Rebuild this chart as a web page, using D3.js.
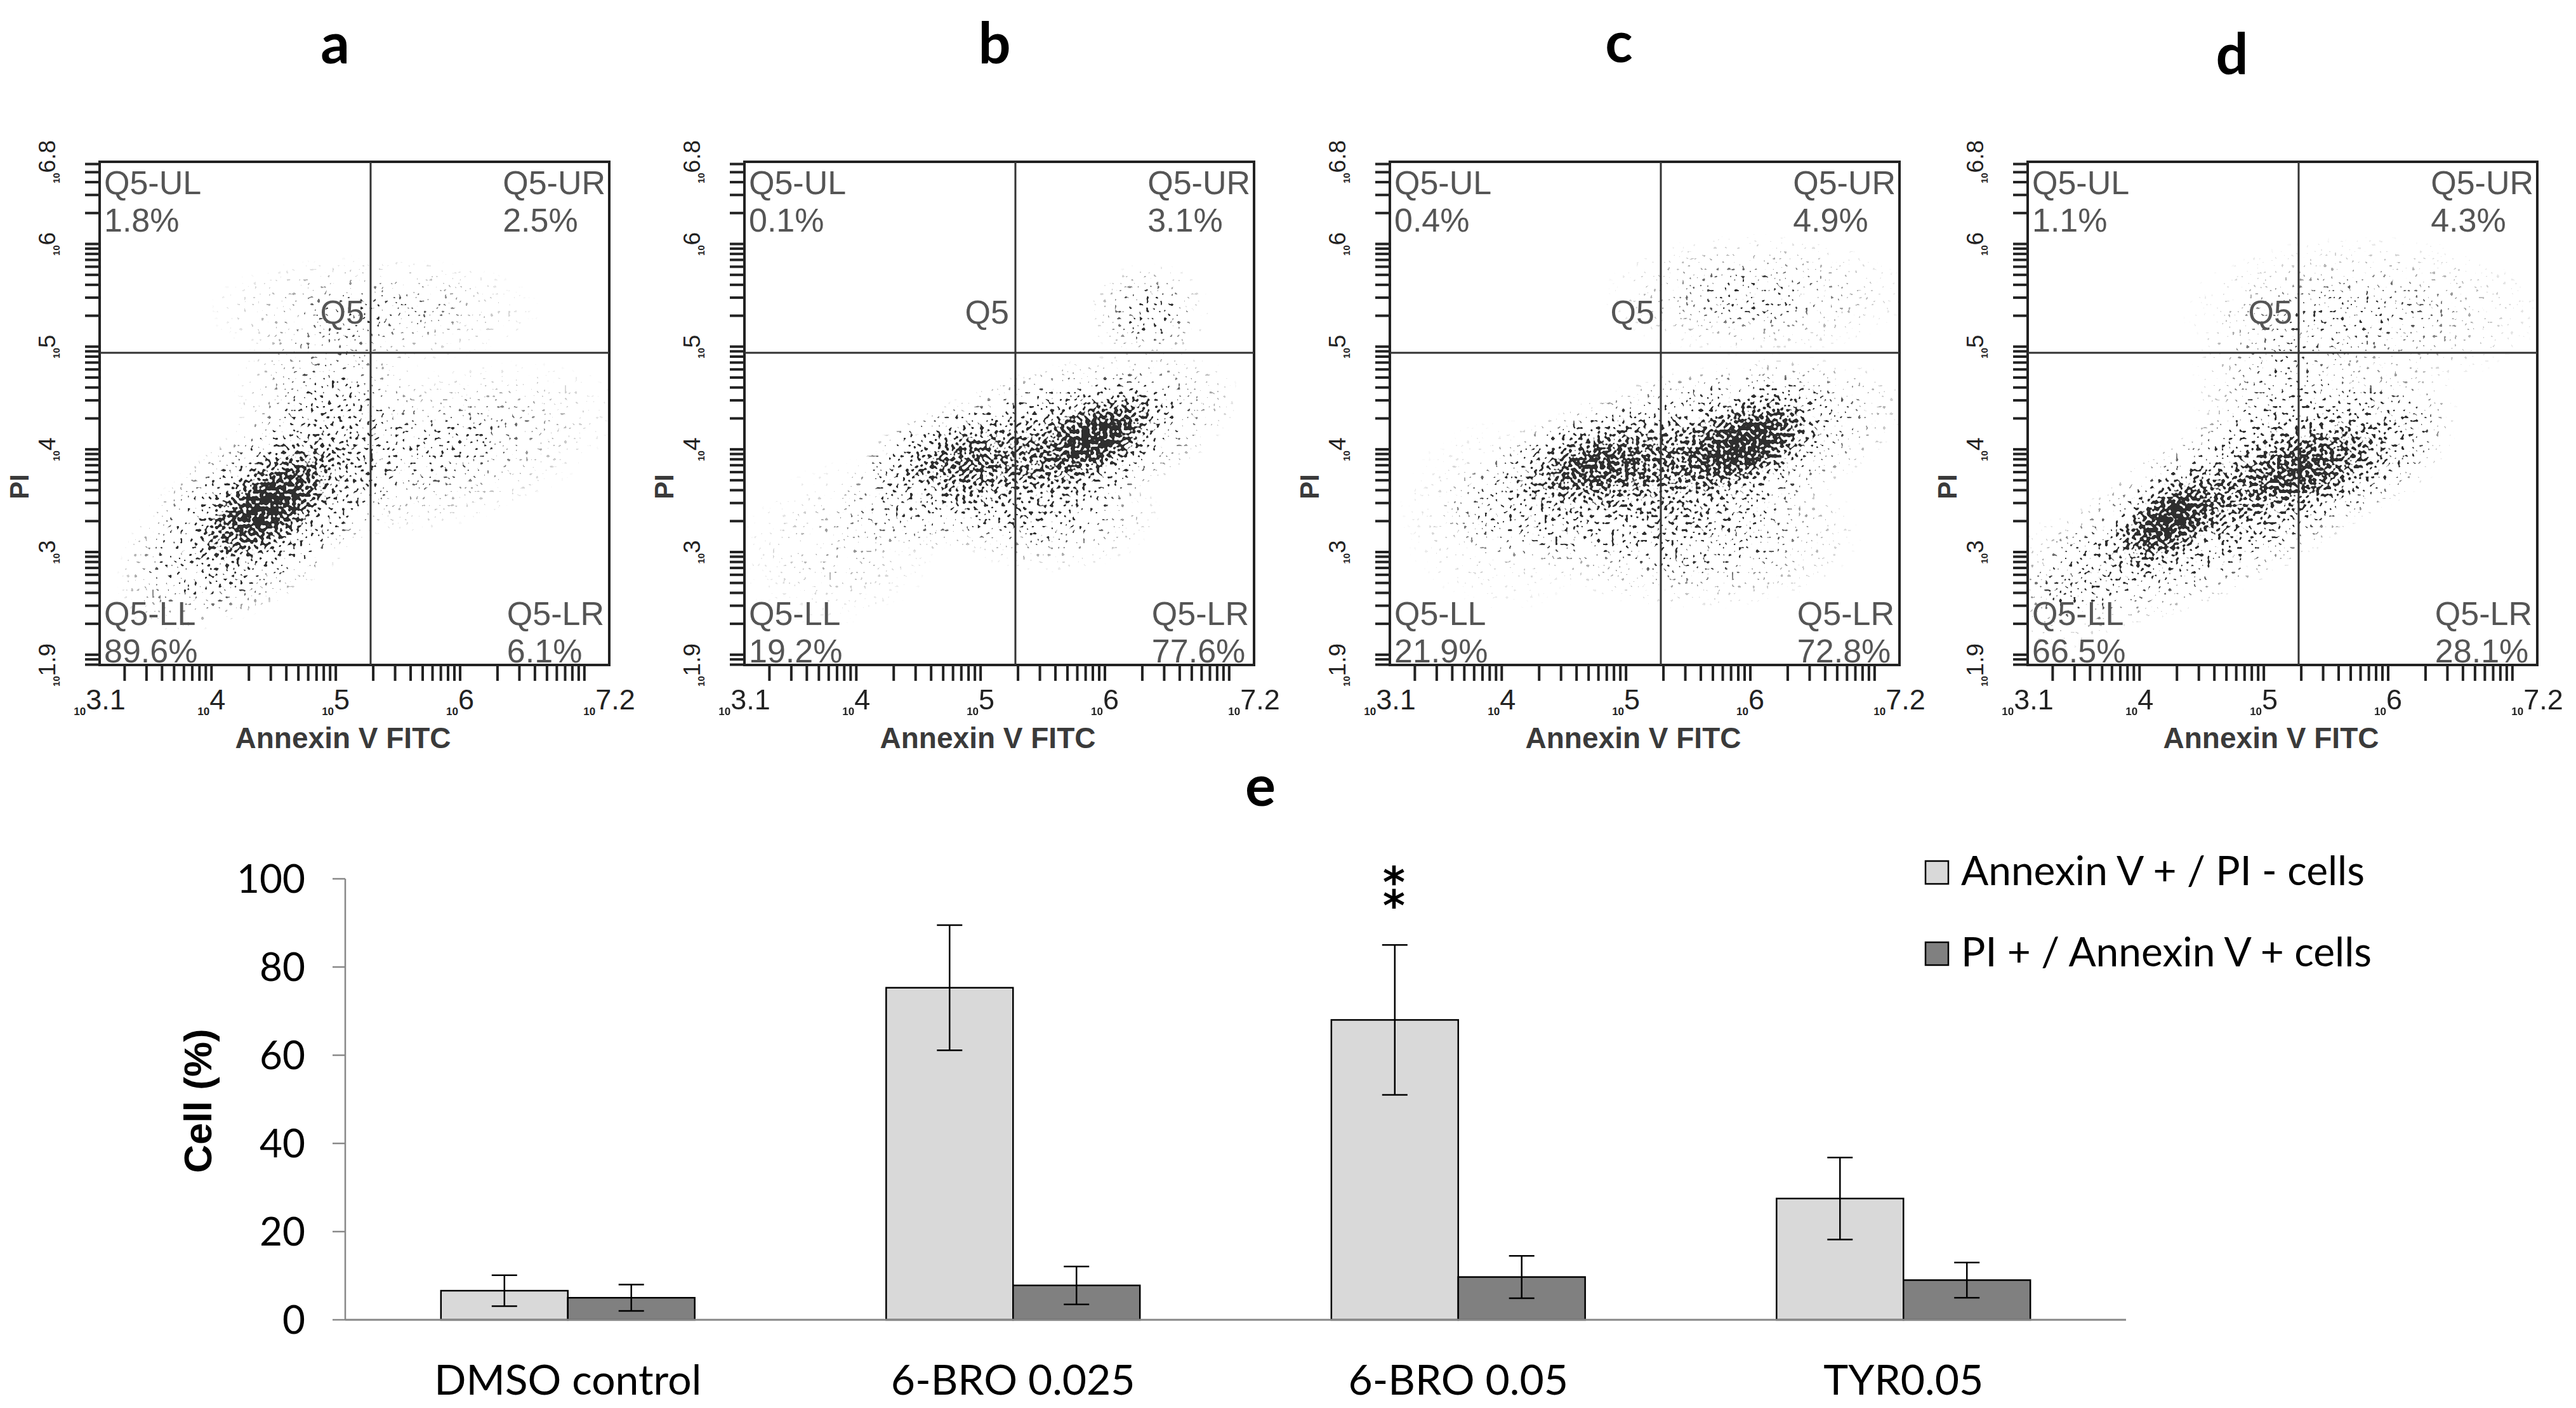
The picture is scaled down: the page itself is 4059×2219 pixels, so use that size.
<!DOCTYPE html>
<html>
<head>
<meta charset="utf-8">
<script src="https://cdn.jsdelivr.net/npm/d3@7"></script>
<style>
  body { margin: 0; background: #fff; }
</style>
</head>
<body>
<svg id="chart"></svg>
<script>
"use strict";

// ---- flow cytometry panels (a-d) ----
var panelNames = ["a", "b", "c", "d"];
var quadrantNames = ["Q5-UL", "Q5-UR", "Q5-LL", "Q5-LR"];
var quadrantPct = [
  ["1.8%", "2.5%", "89.6%", "6.1%"],
  ["0.1%", "3.1%", "19.2%", "77.6%"],
  ["0.4%", "4.9%", "21.9%", "72.8%"],
  ["1.1%", "4.3%", "66.5%", "28.1%"]
];
var xExtent = [3.1, 7.2];          // log10 Annexin V FITC
var yExtent = [1.9, 6.8];          // log10 PI
var xTickExp = [3.1, 4, 5, 6, 7.2];
var yTickExp = [1.9, 3, 4, 5, 6, 6.8];
var gateLog = [5.28, 4.94];        // Q5 quadrant gate

// cell clouds:
// [log10 FITC, log10 PI, spread along, spread across (decades), tilt (deg), density]
var cloudsA = [
  [4.46, 3.47, 0.32, 0.16, 38, 0.8],
  [4.42, 3.38, 0.60, 0.30, 35, 0.4],
  [4.95, 4.35, 0.35, 0.40, 0, 0.15],
  [5.85, 4.00, 0.65, 0.28, 15, 0.12],
  [5.30, 5.35, 0.60, 0.20, 0, 0.1]
];
var cloudsB = [
  [5.95, 4.12, 0.30, 0.15, 29, 0.8],
  [5.45, 3.98, 0.75, 0.28, 18, 0.42],
  [4.77, 3.90, 0.33, 0.18, 10, 0.38],
  [5.55, 3.40, 0.40, 0.22, 0, 0.17],
  [6.36, 5.33, 0.22, 0.18, 0, 0.16],
  [3.90, 3.10, 0.40, 0.30, 20, 0.05]
];
var cloudsC = [
  [5.98, 4.07, 0.33, 0.17, 25, 0.8],
  [4.72, 3.86, 0.33, 0.16, 15, 0.55],
  [5.38, 3.90, 0.85, 0.30, 15, 0.45],
  [5.55, 3.20, 0.60, 0.28, 0, 0.18],
  [6.05, 5.50, 0.55, 0.22, 0, 0.12],
  [4.05, 3.36, 0.40, 0.35, 0, 0.06]
];
var cloudsD = [
  [4.23, 3.31, 0.30, 0.15, 35, 0.8],
  [5.30, 3.80, 0.33, 0.18, 20, 0.5],
  [4.83, 3.55, 0.85, 0.30, 28, 0.38],
  [5.80, 3.98, 0.35, 0.22, 25, 0.22],
  [5.80, 5.32, 0.65, 0.28, 0, 0.11],
  [5.13, 4.55, 0.33, 0.38, 0, 0.11],
  [3.45, 2.70, 0.30, 0.25, 30, 0.09]
];
var clouds = [cloudsA, cloudsB, cloudsC, cloudsD];

// ---- bar chart (e) ----
var groups = ["DMSO control", "6-BRO 0.025", "6-BRO 0.05", "TYR0.05"];
var seriesNames = ["Annexin V + / PI - cells", "PI + / Annexin V + cells"];
var earlyApoptotic = [6.6, 75.3, 68.0, 27.5];
var earlyErr = [3.5, 14.2, 17.0, 9.3];
var lateApoptotic = [5.0, 7.8, 9.7, 9.0];
var lateErr = [3.0, 4.3, 4.8, 4.0];
var yTicks = [0, 20, 40, 60, 80, 100];
var stars = [{ group: "6-BRO 0.05", series: 0, mark: "\u2051" }];   // two stacked asterisks

var W = 4059, H = 2219;
var svg = d3.select("#chart").attr("width", W).attr("height", H);
var defs = svg.append("defs");

// gaussian fall-off used for every cloud
var gauss = defs.append("radialGradient").attr("id", "gauss");
[[0, 1], [0.2, 0.88], [0.4, 0.61], [0.6, 0.32], [0.8, 0.14], [1, 0]].forEach(function (s) {
  gauss.append("stop").attr("offset", s[0]).attr("stop-color", "#000").attr("stop-opacity", s[1]);
});

// turns a density field into speckles like a dot plot
var sp = defs.append("filter").attr("id", "speckle")
  .attr("color-interpolation-filters", "sRGB")
  .attr("filterUnits", "userSpaceOnUse")
  .attr("x", 0).attr("y", 0).attr("width", W).attr("height", 1200);
sp.append("feTurbulence").attr("type", "fractalNoise").attr("baseFrequency", 0.18)
  .attr("numOctaves", 1).attr("seed", 11).attr("result", "noise");
sp.append("feColorMatrix").attr("in", "noise").attr("type", "matrix")
  .attr("values", "0 0 0 0 0  0 0 0 0 0  0 0 0 0 0  2.4 0 0 0 -0.7").attr("result", "grain");
sp.append("feComponentTransfer").attr("in", "SourceAlpha").attr("result", "dens")
  .append("feFuncA").attr("type", "gamma").attr("amplitude", 1).attr("exponent", 0.9).attr("offset", 0);
sp.append("feComposite").attr("in", "dens").attr("in2", "grain").attr("operator", "arithmetic")
  .attr("k1", 0).attr("k2", 8).attr("k3", 8).attr("k4", -8).attr("result", "dots");
sp.append("feGaussianBlur").attr("in", "dots").attr("stdDeviation", 0.5).attr("result", "soft");
sp.append("feFlood").attr("flood-color", "#2e2e2e").attr("result", "ink");
sp.append("feComposite").attr("in", "ink").attr("in2", "soft").attr("operator", "in");

var panelLeft = [157, 1173, 2190, 3195];
var panelW = 803, panelTop = 255, panelBottom = 1048;
var titlePos = [[528, 100], [1567, 100], [2551, 98], [3517, 117]];
var sans = "'Liberation Sans', Arial, sans-serif";

panelNames.forEach(function (name, p) {
  var left = panelLeft[p], right = left + panelW;
  var x = d3.scaleLog().domain(xExtent.map(function (e) { return Math.pow(10, e); })).range([left, right]);
  var y = d3.scaleLog().domain(yExtent.map(function (e) { return Math.pow(10, e); })).range([panelBottom, panelTop]);
  var pxPerDec = ((right - left) / (xExtent[1] - xExtent[0]) + (panelBottom - panelTop) / (yExtent[1] - yExtent[0])) / 2;
  var g = svg.append("g").attr("class", "panel");

  svg.append("text").attr("x", titlePos[p][0]).attr("y", titlePos[p][1])
    .attr("text-anchor", "middle").attr("font-family", "Lato, sans-serif").attr("font-weight", 700)
    .attr("font-size", 90).text(name);

  defs.append("clipPath").attr("id", "clip" + p).append("rect")
    .attr("x", left).attr("y", panelTop).attr("width", panelW).attr("height", panelBottom - panelTop);

  g.append("g").attr("clip-path", "url(#clip" + p + ")")
    .append("g").attr("filter", "url(#speckle)")
    .selectAll("ellipse").data(clouds[p]).enter().append("ellipse")
    .attr("cx", function (d) { return x(Math.pow(10, d[0])); })
    .attr("cy", function (d) { return y(Math.pow(10, d[1])); })
    .attr("rx", function (d) { return 2.5 * d[2] * pxPerDec; })
    .attr("ry", function (d) { return 2.5 * d[3] * pxPerDec; })
    .attr("transform", function (d) {
      return "rotate(" + (-d[4]) + "," + x(Math.pow(10, d[0])) + "," + y(Math.pow(10, d[1])) + ")";
    })
    .attr("fill", "url(#gauss)").attr("fill-opacity", function (d) { return d[5]; });

  // ticks
  g.append("g").selectAll("line").data(x.ticks()).enter().append("line")
    .attr("x1", function (d) { return x(d); }).attr("x2", function (d) { return x(d); })
    .attr("y1", panelBottom).attr("y2", panelBottom + 25)
    .attr("stroke", "#222").attr("stroke-width", 4);
  g.append("g").selectAll("line").data(y.ticks()).enter().append("line")
    .attr("y1", function (d) { return y(d); }).attr("y2", function (d) { return y(d); })
    .attr("x1", left).attr("x2", left - 23)
    .attr("stroke", "#222").attr("stroke-width", 4);

  // frame and gate
  g.append("rect").attr("x", left).attr("y", panelTop).attr("width", panelW)
    .attr("height", panelBottom - panelTop).attr("fill", "none").attr("stroke", "#222").attr("stroke-width", 4);
  var gx = x(Math.pow(10, gateLog[0])), gy = y(Math.pow(10, gateLog[1]));
  g.append("line").attr("x1", gx).attr("x2", gx).attr("y1", panelTop).attr("y2", panelBottom)
    .attr("stroke", "#333").attr("stroke-width", 3);
  g.append("line").attr("x1", left).attr("x2", right).attr("y1", gy).attr("y2", gy)
    .attr("stroke", "#333").attr("stroke-width", 3);

  // tick labels: small "10" with the exponent
  var xl = g.append("g").selectAll("text").data(xTickExp).enter().append("text")
    .attr("x", function (d) { return x(Math.pow(10, d)); }).attr("y", panelBottom + 70)
    .attr("text-anchor", "middle").attr("font-family", sans).attr("fill", "#222");
  xl.append("tspan").attr("font-size", 17).attr("font-weight", 700).attr("dy", 9).text("10");
  xl.append("tspan").attr("font-size", 45).attr("dy", -9).text(function (d) { return d; });

  var yl = g.append("g").selectAll("text").data(yTickExp).enter().append("text")
    .attr("transform", function (d) { return "translate(" + (left - 70) + "," + y(Math.pow(10, d)) + ") rotate(-90)"; })
    .attr("text-anchor", "middle").attr("font-family", sans).attr("fill", "#222");
  yl.append("tspan").attr("font-size", 15).attr("font-weight", 700).attr("dy", 7).text("10");
  yl.append("tspan").attr("font-size", 37).attr("dy", -7).text(function (d) { return d; });

  // axis titles
  g.append("text").attr("x", (left + right) / 2 - 18).attr("y", panelBottom + 131)
    .attr("text-anchor", "middle").attr("font-family", sans).attr("font-weight", 700)
    .attr("font-size", 46).attr("fill", "#3a3a3a").text("Annexin V FITC");
  g.append("text").attr("transform", "translate(" + (left - 112) + ",767) rotate(-90)")
    .attr("text-anchor", "middle").attr("font-family", sans).attr("font-weight", 700)
    .attr("font-size", 42).attr("fill", "#3a3a3a").text("PI");

  // quadrant labels
  function qtext(tx, ty, str, anchor) {
    return g.append("text").attr("x", tx).attr("y", ty).attr("text-anchor", anchor || "start")
      .attr("font-family", sans).attr("font-size", 52).attr("fill", "#555").text(str);
  }
  qtext(left + 7, panelTop + 51, quadrantNames[0]);
  qtext(left + 7, panelTop + 110, quadrantPct[p][0]);
  var ur = qtext(right - 6, panelTop + 51, quadrantNames[1], "end");
  qtext(right - 6 - ur.node().getComputedTextLength(), panelTop + 110, quadrantPct[p][1]);
  qtext(left + 7, panelBottom - 63, quadrantNames[2]);
  qtext(left + 7, panelBottom - 4, quadrantPct[p][2]);
  var lr = qtext(right - 8, panelBottom - 63, quadrantNames[3], "end");
  qtext(right - 8 - lr.node().getComputedTextLength(), panelBottom - 4, quadrantPct[p][3]);
  qtext(gx - 10, gy - 46, "Q5", "end");
});

// ---- panel e ----
var ex = d3.scaleBand().domain(groups).range([544, 3350]);
var ey = d3.scaleLinear().domain([0, 100]).range([2080, 1385]);
var barW = ex.step() * 0.285;
var serColor = ["#d9d9d9", "#808080"];
var values = [earlyApoptotic, lateApoptotic];
var errs = [earlyErr, lateErr];
var lato = "Lato, 'Open Sans', sans-serif";

svg.append("text").attr("x", 1986).attr("y", 1270).attr("text-anchor", "middle")
  .attr("font-family", lato).attr("font-weight", 700).attr("font-size", 90).text("e");

var eg = svg.append("g");
eg.append("g").selectAll("line").data(yTicks).enter().append("line")
  .attr("x1", 524).attr("x2", 544).attr("y1", function (d) { return ey(d); }).attr("y2", function (d) { return ey(d); })
  .attr("stroke", "#888").attr("stroke-width", 2.5);
eg.append("g").selectAll("text").data(yTicks).enter().append("text")
  .attr("x", 481).attr("y", function (d) { return ey(d) + 22; }).attr("text-anchor", "end")
  .attr("font-family", lato).attr("font-size", 62).text(function (d) { return d; });
eg.append("line").attr("x1", 544).attr("x2", 544).attr("y1", ey(100)).attr("y2", ey(0))
  .attr("stroke", "#888").attr("stroke-width", 2.5);

var rows = [];
groups.forEach(function (gname, i) {
  [0, 1].forEach(function (s) {
    rows.push({ group: gname, s: s, v: values[s][i], e: errs[s][i] });
  });
});
function barX(d) { return ex(d.group) + ex.bandwidth() / 2 + (d.s - 1) * barW; }

eg.append("g").selectAll("rect").data(rows).enter().append("rect")
  .attr("x", barX).attr("y", function (d) { return ey(d.v); })
  .attr("width", barW).attr("height", function (d) { return ey(0) - ey(d.v); })
  .attr("fill", function (d) { return serColor[d.s]; })
  .attr("stroke", "#000").attr("stroke-width", 2.5);

eg.append("line").attr("x1", 544).attr("x2", 3350).attr("y1", ey(0)).attr("y2", ey(0))
  .attr("stroke", "#888").attr("stroke-width", 3);

var eb = eg.append("g").selectAll("g").data(rows).enter().append("g")
  .attr("stroke", "#000").attr("stroke-width", 2.5);
eb.append("line").attr("x1", function (d) { return barX(d) + barW / 2; }).attr("x2", function (d) { return barX(d) + barW / 2; })
  .attr("y1", function (d) { return ey(d.v + d.e); }).attr("y2", function (d) { return ey(d.v - d.e); });
[1, -1].forEach(function (sgn) {
  eb.append("line").attr("x1", function (d) { return barX(d) + barW / 2 - 20; })
    .attr("x2", function (d) { return barX(d) + barW / 2 + 20; })
    .attr("y1", function (d) { return ey(d.v + sgn * d.e); }).attr("y2", function (d) { return ey(d.v + sgn * d.e); });
});

// significance mark above the error bar
stars.forEach(function (st) {
  var i = groups.indexOf(st.group);
  var cx = ex(st.group) + ex.bandwidth() / 2 + (st.series - 1) * barW + barW / 2;
  var top = ey(values[st.series][i] + errs[st.series][i]);
  eg.append("text").attr("x", cx).attr("y", top - 58)
    .attr("text-anchor", "middle").attr("font-family", "'DejaVu Sans', sans-serif")
    .attr("font-weight", 700).attr("font-size", 84)
    .text(st.mark);
});

eg.append("g").selectAll("text").data(groups).enter().append("text")
  .attr("x", function (d) { return ex(d) + ex.bandwidth() / 2; }).attr("y", 2198)
  .attr("text-anchor", "middle").attr("font-family", lato).attr("font-size", 66).text(function (d) { return d; });

eg.append("text").attr("transform", "translate(333,1735) rotate(-90)").attr("text-anchor", "middle")
  .attr("font-family", sans).attr("font-weight", 700).attr("font-size", 62).text("Cell (%)");

var lg = eg.append("g").selectAll("g").data(seriesNames).enter().append("g")
  .attr("transform", function (d, i) { return "translate(3034," + (1357 + i * 128) + ")"; });
lg.append("rect").attr("width", 36).attr("height", 36)
  .attr("fill", function (d, i) { return serColor[i]; }).attr("stroke", "#000").attr("stroke-width", 2.5);
lg.append("text").attr("x", 56).attr("y", 38).attr("font-family", lato).attr("font-size", 64)
  .text(function (d) { return d; });
</script>
</body>
</html>
